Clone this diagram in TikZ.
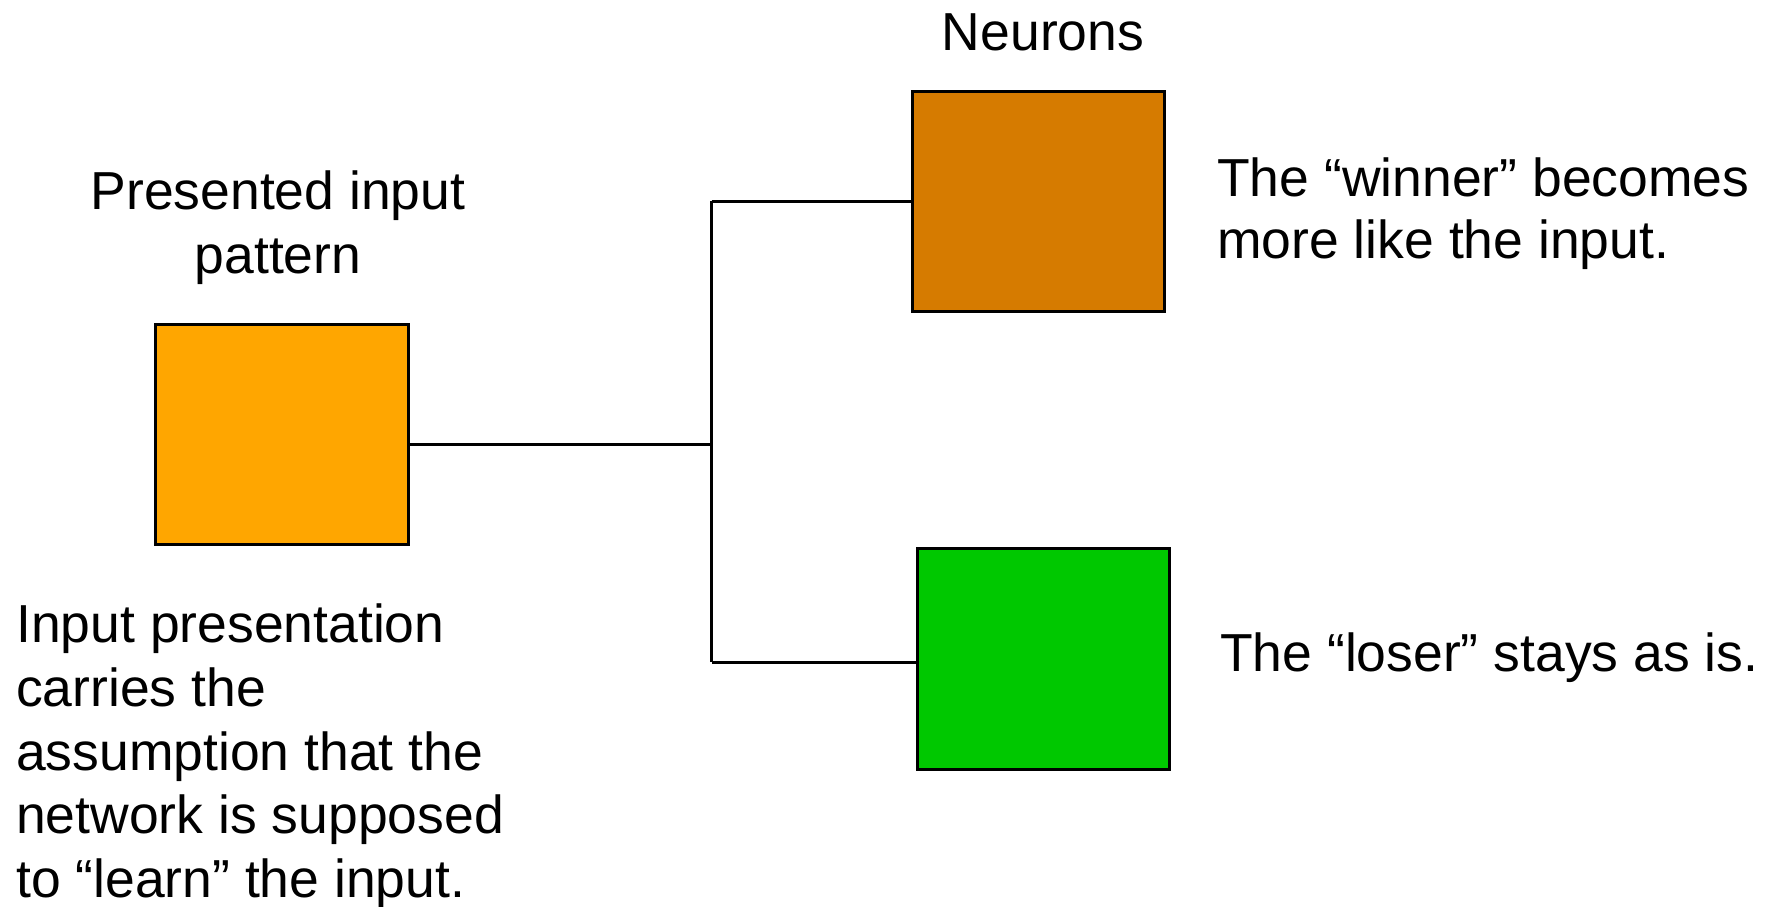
\documentclass[tikz,border=0pt]{standalone}
\usepackage{fontspec}
\setmainfont{Liberation Sans}
\begin{document}
\begin{tikzpicture}[x=1pt,y=-1pt,
  box/.style={draw=black, line width=3pt, inner sep=0pt, minimum width=252pt, minimum height=220pt},
  wire/.style={draw=black, line width=3pt},
  lbl/.style={inner sep=0pt, font=\fontsize{53.5}{63.8}\selectfont}]
\useasboundingbox[fill=white] (0,0) rectangle (1767,906);
\definecolor{inorange}{RGB}{255,166,0}
\definecolor{winorange}{RGB}{214,123,0}
\definecolor{losegreen}{RGB}{0,200,0}
\node[box, fill=inorange, minimum width=253pt] (input) at (281.5,434) {};
\node[box, fill=winorange] (winner) at (1038,201) {};
\node[box, fill=losegreen, minimum height=221pt] (loser) at (1043,658.5) {};
\coordinate (junction) at (711.5,444);
\coordinate (top) at (711.5,201);
\coordinate (bot) at (711.5,662);
\draw[wire] (input.east |- junction) -- (junction);
\draw[wire] (top) -- (bot);
\draw[wire] (top) -- (winner.west);
\draw[wire] (bot) -- (loser.west |- bot);
\node[lbl, anchor=base] (neurons) at (1043,50.7) {Neurons};
\node[lbl, anchor=north, align=center, font=\fontsize{53.5}{64}\selectfont] (intitle) at (278,171) {Presented input\\pattern};
\node[lbl, anchor=north west, align=left] (inputtext) at (16,603.5) {Input presentation\\carries the\\assumption that the\\network is supposed\\to “learn” the input.};
\node[lbl, anchor=north west, align=left, font=\fontsize{53.5}{62}\selectfont] (wintext) at (1217,158) {The “winner” becomes\\more like the input.};
\node[lbl, anchor=base west] (losetext) at (1220,671) {The “loser” stays as is.};
\end{tikzpicture}
\end{document}
